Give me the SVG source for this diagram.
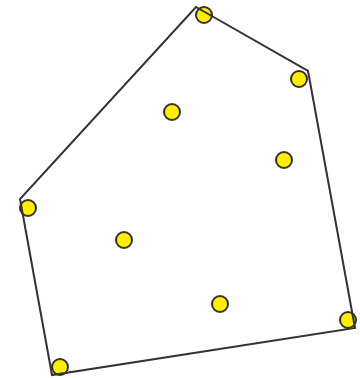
<svg xmlns="http://www.w3.org/2000/svg" width="360" height="378" viewBox="0 0 360 378">
<style>
.pt{fill:#ffee00;stroke:#333;stroke-width:2}
.hull{fill:none;stroke:#333;stroke-width:2;stroke-linejoin:miter}
</style>
<rect width="360" height="378" fill="#fff"/>
<g id="p1"><circle class="pt" cx="204" cy="15" r="8"/></g>
<g id="p2"><circle class="pt" cx="299" cy="79" r="8"/></g>
<g id="p3"><circle class="pt" cx="172" cy="112" r="8"/></g>
<g id="p4"><circle class="pt" cx="284" cy="160" r="8"/></g>
<g id="p5"><circle class="pt" cx="28" cy="208" r="8"/></g>
<g id="p6"><circle class="pt" cx="124" cy="240" r="8"/></g>
<g id="p7"><circle class="pt" cx="220" cy="304" r="8"/></g>
<g id="p8"><circle class="pt" cx="348" cy="320" r="8"/></g>
<g id="p9"><circle class="pt" cx="60" cy="367" r="8"/></g>
<g id="connectors">
<polygon class="hull" points="196,7 308,71 355,328 52,375 20,199"/>
</g>
</svg>
